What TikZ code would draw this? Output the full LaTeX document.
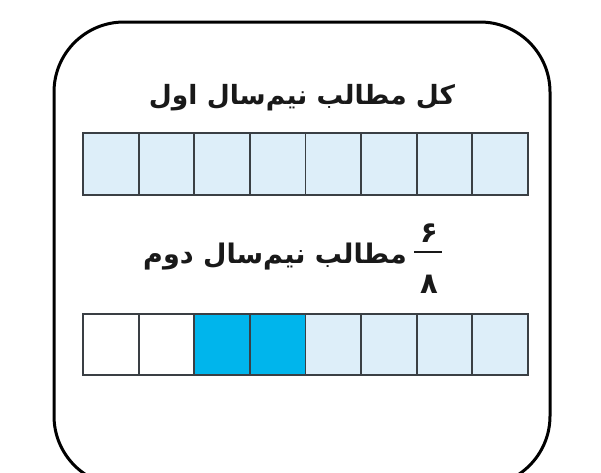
\documentclass[tikz,border=0pt]{standalone}
\usepackage{fontspec}
\TeXXeTstate=1
\newfontfamily\arabicfont[Script=Arabic]{DejaVu Sans}
\definecolor{lightcell}{HTML}{DDEEF9}
\definecolor{cyancell}{HTML}{00B5EC}
\definecolor{cellline}{HTML}{3A3F44}
\begin{document}
\begin{tikzpicture}[x=1pt,y=-1pt,
  cell/.style={draw=cellline, line width=1.8pt, minimum width=55.625pt, minimum height=#1, inner sep=0pt, outer sep=0pt, anchor=north west},
  cell/.default=62pt,
  fa/.style={font=\arabicfont\bfseries\fontsize{#1}{#1}\selectfont, inner sep=0pt, text=black!90},
  fa/.default=26pt]
\useasboundingbox (0,0) rectangle (601,472);
\clip (0,0) rectangle (601,472);
\fill[white] (0,0) rectangle (601,472);
\draw[line width=3pt, rounded corners=70pt] (54,22) rectangle (550,486);
% top bar
\foreach \i in {0,...,7} {
  \node[cell=62pt, fill=lightcell] (t\i) at ({83+\i*55.625}, 133) {};
}
% bottom bar
\foreach \i/\c in {0/white,1/white,2/cyancell,3/cyancell,4/lightcell,5/lightcell,6/lightcell,7/lightcell} {
  \node[cell=61pt, fill=\c] (b\i) at ({83+\i*55.625}, 314) {};
}
\node[fa=26.5pt, anchor=base] (title) at (302,104) {\beginR کل مطالب نیم‌سال اول\endR};
\node[fa=27pt, anchor=base east] (sub) at (407,263) {\beginR مطالب نیم‌سال دوم\endR};
\node[fa=29pt] (six) at (429,233) {۶};
\node[fa=29pt] (eight) at (429,284) {۸};
\coordinate (fl) at (414,252);
\coordinate (fr) at (442,252);
\draw[line width=2.4pt, black!90] (fl) -- (fr);
\end{tikzpicture}
\end{document}
